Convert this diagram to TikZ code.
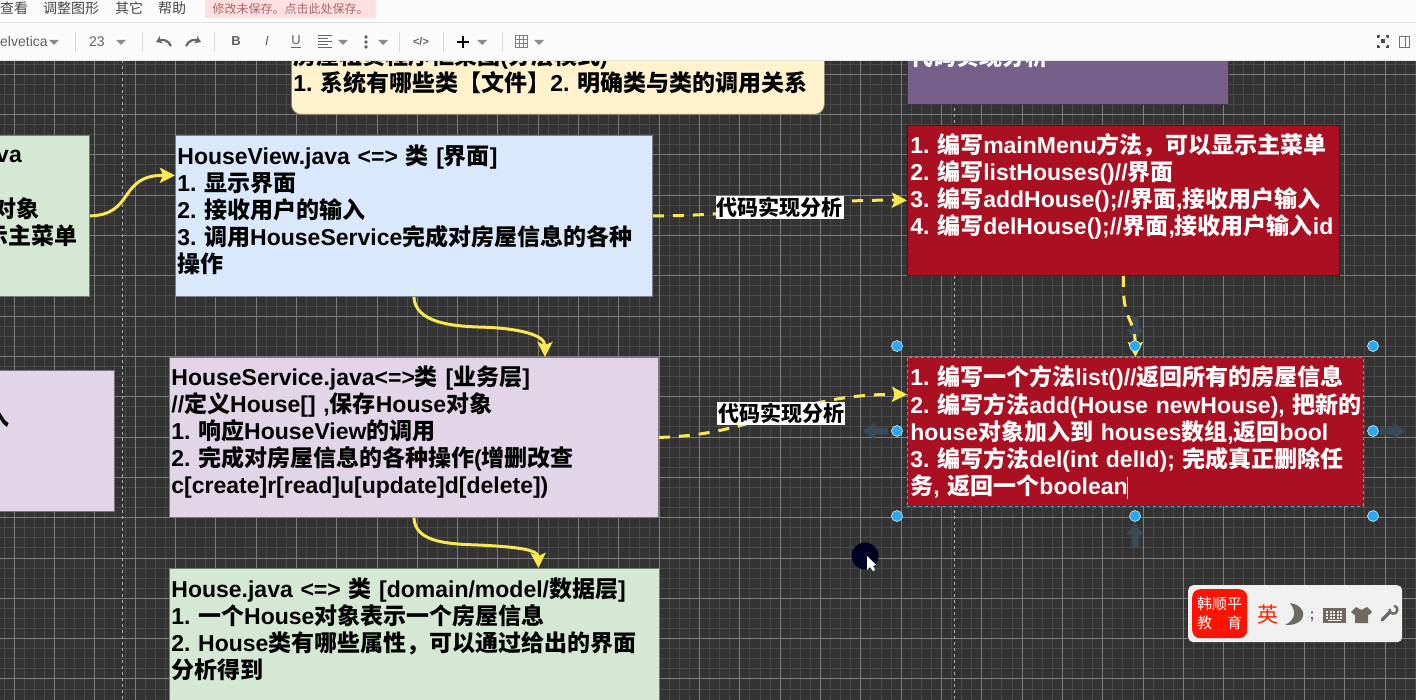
\documentclass[tikz,border=0pt]{standalone}
\usepackage{fontspec}
\usepackage{xcolor}
\usetikzlibrary{arrows.meta}
\setmainfont{Liberation Sans}
\newfontfamily\zhfont{Noto Sans CJK SC}
\newcommand{\zh}[1]{{\zhfont #1}}
\definecolor{canvas-dark}{HTML}{333333}
\definecolor{arrow-yellow}{HTML}{F9E94E}
\definecolor{hover-blue}{HTML}{3A4A56}
\definecolor{handle-blue}{HTML}{29A9F0}
\definecolor{ime-gray}{HTML}{6E6A60}
\definecolor{green-fill}{HTML}{D5E8D4}
\definecolor{blue-fill}{HTML}{DAE8FC}
\definecolor{lilac-fill}{HTML}{E1D5E7}
\definecolor{yellow-fill}{HTML}{FFF2CC}
\definecolor{plum-fill}{HTML}{76608A}
\definecolor{red-fill}{HTML}{AB1022}
\tikzset{
    note-box/.style = {draw=#1!55!black, fill=#1, rectangle, anchor=north west, align=left, inner xsep=2pt, inner ysep=0pt, font=\fontsize{23}{27.1}\selectfont\bfseries\frenchspacing, text=black, line width=0.8pt},
    red-box/.style = {note-box=red-fill, text=white, inner xsep=3pt},
    flow-arrow/.style = {draw=arrow-yellow, line width=3pt, -{Stealth[length=15pt,width=15pt,inset=3pt]}},
    flow-dash-arrow/.style = {flow-arrow, dash pattern=on 11pt off 9pt},
    flow-label/.style = {fill=white, text=black, inner sep=1pt, font=\fontsize{21}{24}\selectfont\bfseries},
    cut-text/.style = {anchor=east, inner sep=0pt, text=black, font=\fontsize{23}{27.1}\selectfont\bfseries},
    sel-handle/.style = {circle, fill=handle-blue, draw=white, line width=0.5pt, inner sep=0pt, minimum size=11pt},
    hover-arrow/.style = {fill=hover-blue},
    menu-item/.style = {anchor=west, inner sep=0pt, text=black!72, font=\fontsize{14}{16}\selectfont},
    tool-item/.style = {anchor=center, inner sep=0pt, text=black!62, font=\fontsize{14}{16}\selectfont},
}
\begin{document}
\begin{tikzpicture}[x=1pt,y=-1pt]
\useasboundingbox (0,0) rectangle (1416,700);
\clip (0,0) rectangle (1416,700);
% canvas and grid
\fill[canvas-dark] (0,0) rectangle (1416,700);
\foreach \n in {0,...,140} \draw[white!11!canvas-dark, line width=0.7pt] ({3.9+10.08*\n},60) -- ({3.9+10.08*\n},700);
\foreach \n in {0,...,64} \draw[white!11!canvas-dark, line width=0.7pt] (0,{43.8+10.08*\n}) -- (1416,{43.8+10.08*\n});
\foreach \n in {0,...,35} \draw[white!36!canvas-dark, line width=0.7pt] ({14+40.32*\n},60) -- ({14+40.32*\n},700);
\foreach \n in {0,...,16} \draw[white!36!canvas-dark, line width=0.7pt] (0,{33.7+40.32*\n}) -- (1416,{33.7+40.32*\n});
\foreach \n in {122,954} \draw[white!60!canvas-dark, dashed, line width=0.8pt] (\n,60) -- (\n,700);

% boxes
\node[note-box=yellow-fill, rounded corners=10pt, text width=529pt, minimum height=90pt] (layer-note) at (291,24) {\zh{房屋租赁程序框架图}(\zh{分层模式})\\
    1. \zh{系统有哪些类【文件】}2. \zh{明确类与类的调用关系}};
\node[note-box=plum-fill, text=white, inner xsep=3pt, text width=315pt, minimum height=84pt] (plan-note) at (907,20) {\raisebox{13pt}{\zh{代码实现分析}}};
\node[note-box=green-fill, minimum width=300pt, minimum height=161pt] (app-box) at (-211,135) {};
\node[note-box=blue-fill, text width=473pt, minimum height=161pt] (view-box) at (175,135) {HouseView.java <=> \zh{类} [\zh{界面}]\\
    1. \zh{显示界面}\\
    2. \zh{接收用户的输入}\\
    3. \zh{调用}HouseService\zh{完成对房屋信息的各种}\\
    \zh{操作}\\[-13pt]~};
\node[note-box=lilac-fill, minimum width=314pt, minimum height=141pt] (input-box) at (-200,370) {};
\node[note-box=lilac-fill, text width=485pt, minimum height=160pt] (service-box) at (169,357) {HouseService.java<=>\zh{类} [\zh{业务层}]\\
    //\zh{定义}House[] ,\zh{保存}House\zh{对象}\\
    1. \zh{响应}HouseView\zh{的调用}\\
    2. \zh{完成对房屋信息的各种操作}(\zh{增删改查}\\
    c[create]r[read]u[update]d[delete])\\[-12pt]~};
\node[note-box=green-fill, text width=486pt, minimum height=152pt] (model-box) at (169,568) {House.java <=> \zh{类} [domain/model/\zh{数据层}]\\
    1. \zh{一个}House\zh{对象表示一个房屋信息}\\
    2. House\zh{类有哪些属性，可以通过给出的界面}\\
    \zh{分析得到}\\ ~\\[-22pt]~};
\node[red-box, text width=426pt, minimum height=150pt] (view-plan) at (907,125) {1. \zh{编写}mainMenu\zh{方法，可以显示主菜单}\\
    2. \zh{编写}listHouses()//\zh{界面}\\
    3. \zh{编写}addHouse();//\zh{界面}{,}\zh{接收用户输入}\\
    4. \zh{编写}delHouse();//\zh{界面}{,}\zh{接收用户输入}id\\ ~\\[-22pt]~};
\node[red-box, draw=handle-blue, dashed, text width=450pt, minimum height=149pt] (service-plan) at (907,357) {1. \zh{编写一个方法}list()//\zh{返回所有的房屋信息}\\
    \mbox{2. \zh{编写方法}add(House newHouse), \zh{把新的}}\\
    house\zh{对象加入到} houses\zh{数组}{,}\zh{返回}bool\\
    3. \zh{编写方法}del(int delId); \zh{完成真正删除任}\\
    \zh{务}, \zh{返回一个}boolean};
\draw[white, line width=0.7pt] (1127,477) -- (1127,499);

% text cut off at the left edge
\node[cut-text] (app-line-a) at (22,156) {va};
\node[cut-text] (app-line-b) at (40,209) {\zh{对象}};
\node[cut-text] (app-line-c) at (78,236) {\zh{示主菜单}};
\node[cut-text] (input-line) at (10,417) {\zh{入}};

% connectors
\draw[flow-arrow] (app-box.east) .. controls (135,215) and (118,175) .. ([yshift=40.5pt]view-box.west);
\draw[flow-arrow] (view-box.south) .. controls (415,322) and (450,326) .. (478,327) .. controls (520,328) and (545,335) .. ([xshift=131pt]service-box.north);
\draw[flow-arrow] (service-box.south) .. controls (415,543) and (450,544) .. (478,545) .. controls (520,547) and (538,550) .. ([xshift=124pt]model-box.north);
\draw[flow-dash-arrow] (view-box.east) .. controls (760,216) and (800,199) .. (view-plan.west) node[flow-label, pos=0.5] (view-label) {\zh{代码实现分析}};
\draw[flow-dash-arrow] (service-box.east) .. controls (760,435) and (790,394) .. ([yshift=37.5pt]service-plan.west) node[flow-label, pos=0.52] (service-label) {\zh{代码实现分析}};

% selection handles and hover arrows
\foreach \ax/\ay/\ang in {1135/328/-90,1135/536/90,876/431/180,1392/431/0}
    \fill[hover-arrow, shift={(\ax,\ay)}, rotate=\ang] (-12,-3.5) -- (1,-3.5) -- (1,-9) -- (13,0) -- (1,9) -- (1,3.5) -- (-12,3.5) -- cycle;
\draw[flow-dash-arrow] (view-plan.south) .. controls (1122,325) and (1135,315) .. (service-plan.north);
\foreach \hx/\hy [count=\i] in {897/346,1135/346,1373/346,897/431,1373/431,897/516,1135/516,1373/516}
    \node[sel-handle] (handle-\i) at (\hx,\hy) {};

% pointer
\node[circle, fill=black!60!blue!35!black, minimum size=27pt, inner sep=0pt] (pointer-spot) at (865,556) {};
\fill[white] (867,556) -- (867,570) -- (870,567) -- (873,571) -- (875,570) -- (873,566) -- (876,565) -- cycle;

% input method bar
\node[fill=black!6, rounded corners=5pt, anchor=north west, minimum width=214pt, minimum height=57pt, inner sep=0pt] (ime-bar) at (1188,585) {};
\node[fill=red!85!orange, rounded corners=8pt, anchor=north west, minimum width=55pt, minimum height=49pt, inner sep=0pt, text=white, align=center, font=\fontsize{15}{19}\selectfont] (ime-logo) at (1192,589) {\zh{韩顺平}\\ \zh{教\hspace{15pt}育}};
\node[inner sep=0pt, text=red!75!orange, font=\fontsize{21}{23}\selectfont] (ime-lang) at (1268,615) {\zh{英}};
\fill[ime-gray] (1290,603) .. controls (1309,606) and (1308,626) .. (1285,625) .. controls (1295,620) and (1297,612) .. (1290,603) -- cycle;
\node[inner sep=0pt, text=ime-gray, font=\fontsize{15}{17}\selectfont\bfseries] (ime-semi) at (1312,617) {;};
\fill[ime-gray] (1323,608) rectangle (1346,623);
\foreach \kx in {1326,1329.5,...,1342} \foreach \ky in {611,614,617} \fill[black!6] (\kx,\ky) rectangle ++(2,1.6);
\fill[black!6] (1328,619.6) rectangle (1341,621);
\fill[ime-gray] (1356,607) -- (1361.5,610) -- (1367,607) -- (1372,612) -- (1369,615) -- (1368,614) -- (1368,623) -- (1355,623) -- (1355,614) -- (1354,615) -- (1351,612) -- cycle;
\draw[ime-gray, line width=3.4pt, line cap=round] (1382,620) -- (1390,612);
\draw[ime-gray, line width=2.4pt] (1389.5,609) arc[start angle=190, end angle=-80, radius=4];

% page chrome
\fill[white!98.5!black] (0,0) rectangle (1416,60);
\draw[black!12] (0,22.5) -- (1416,22.5);
\draw[black!10] (0,60) -- (1416,60);
\foreach \mtext/\mx in {查看/0,调整图形/43,其它/115,帮助/158}
    \node[menu-item] (menu-\mx) at (\mx,8) {\zh{\mtext}};
\node[fill=red!12!white, rounded corners=2pt, anchor=north west, minimum width=171pt, minimum height=19pt, inner sep=0pt, text=red!45!black!60, font=\fontsize{12}{14}\selectfont] (save-note) at (205,-1) {\zh{修改未保存。点击此处保存。}};
\node[tool-item, anchor=west] (font-name) at (0,42) {elvetica};
\node[tool-item] (font-size) at (97,42) {23};
\foreach \cx in {54,121,343,383,482,539}
    \fill[black!45] (\cx-5,40) -- (\cx+5,40) -- (\cx,45) -- cycle;
\foreach \sx in {75,142,214,399,443,502}
    \draw[black!15] (\sx,32) -- (\sx,52);
\draw[black!60, line width=2.2pt, -{Stealth[length=6pt,width=8pt]}] (171,46) .. controls (168,40) and (163,39) .. (156,42);
\draw[black!60, line width=2.2pt, -{Stealth[length=6pt,width=8pt]}] (186,46) .. controls (189,40) and (194,39) .. (201,42);
\node[tool-item, font=\fontsize{13}{15}\selectfont\bfseries] (tool-bold) at (236,41) {B};
\node[tool-item, font=\fontsize{13}{15}\selectfont\itshape] (tool-italic) at (267,41) {I};
\node[tool-item, font=\fontsize{13}{15}\selectfont] (tool-under) at (296,40) {U};
\draw[black!60, line width=1pt] (291,47.5) -- (301,47.5);
\foreach \ly/\lx in {36/332,39/328,42/332,45/328,48/332}
    \draw[black!60, line width=1pt] (318,\ly) -- (\lx,\ly);
\foreach \dy in {37,42,47} \fill[black!62] (366,\dy) circle (1.8);
\node[tool-item, font=\fontsize{11}{13}\selectfont\bfseries] (tool-code) at (421,42) {</>};
\draw[black, line width=2.6pt] (457,42) -- (469,42) (463,36) -- (463,48);
\foreach \tv in {0,...,3} \draw[black!50, line width=0.9pt] ({515+4.3*\tv},35) -- ({515+4.3*\tv},48) (515,{35+4.3*\tv}) -- (528,{35+4.3*\tv});
\draw[black!70, line width=1.3pt] (1378,38) -- (1378,36) -- (1380,36) (1386,36) -- (1388,36) -- (1388,38) (1388,45) -- (1388,47) -- (1386,47) (1380,47) -- (1378,47) -- (1378,45);
\fill[black!70] (1381,39.5) rectangle (1385,43.5);
\draw[black!55, line width=0.9pt] (1399,36.5) rectangle (1409,47.5) (1405,36.5) -- (1405,47.5);
\end{tikzpicture}
\end{document}
